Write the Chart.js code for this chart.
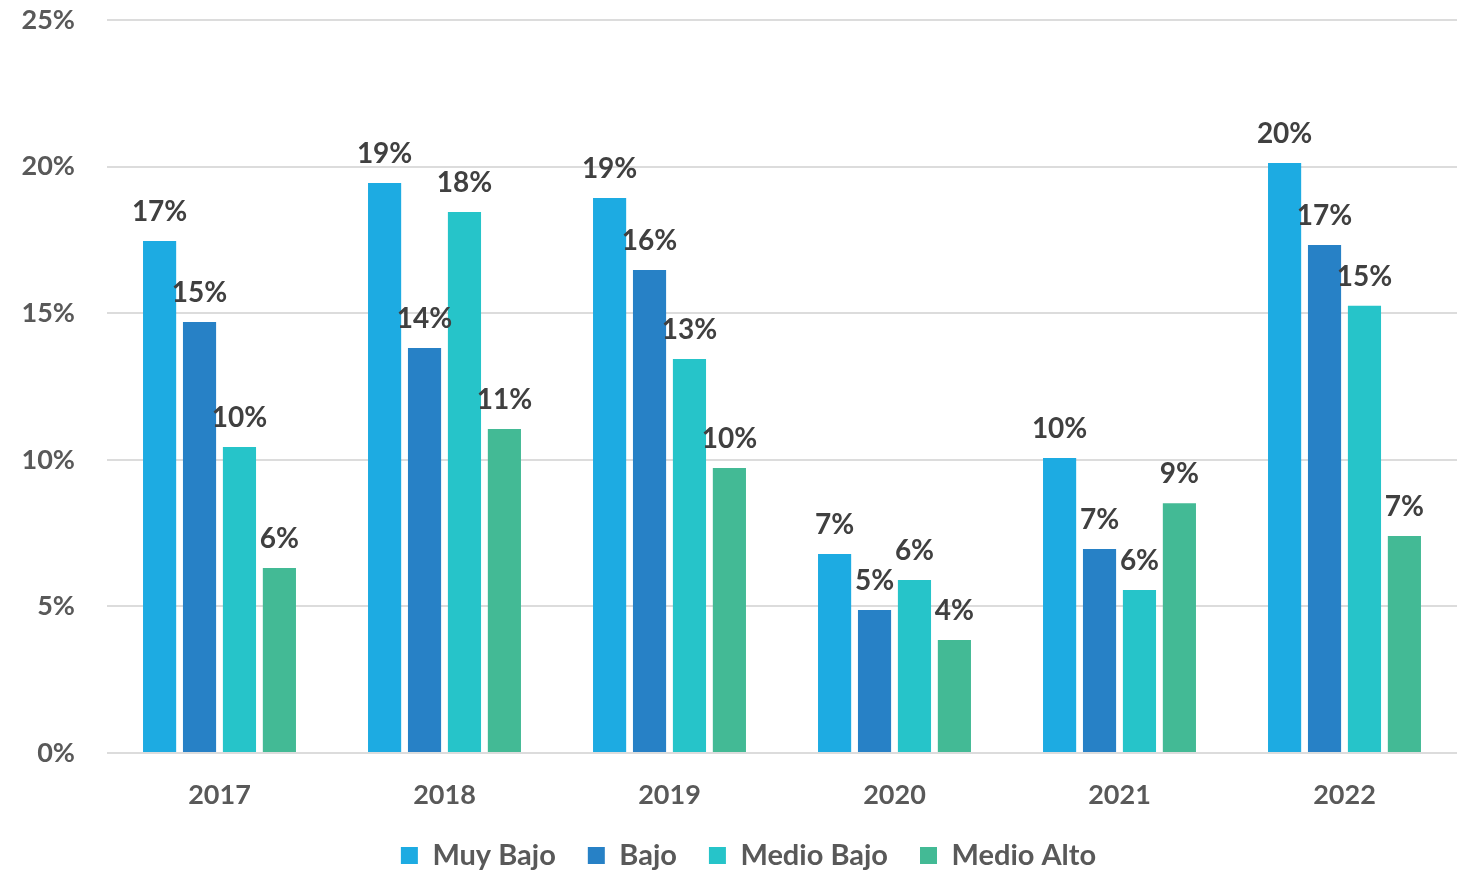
<!DOCTYPE html>
<html>
<head>
<meta charset="utf-8">
<script src="https://cdn.jsdelivr.net/npm/chart.js@4"></script>
<style>
  html, body { margin: 0; padding: 0; background: #fff; }
  #wrap { width: 1463px; height: 871px; }
</style>
</head>
<body>
<div id="wrap"><canvas id="chart" width="1463" height="871"></canvas></div>
<script>
const years = ["2017", "2018", "2019", "2020", "2021", "2022"];
const muyBajo = [17.46, 19.44, 18.93, 6.79, 10.06, 20.12];
const bajo = [14.70, 13.81, 16.47, 4.88, 6.96, 17.33];
const medioBajo = [10.44, 18.45, 13.44, 5.90, 5.56, 15.25];
const medioAlto = [6.31, 11.05, 9.72, 3.85, 8.52, 7.40];
const yTicks = [0, 5, 10, 15, 20, 25];

const FONT = "Lato, 'Open Sans', sans-serif";

// draws the % label above each bar
const barLabels = {
  id: "barLabels",
  afterDatasetsDraw(chart) {
    const ctx = chart.ctx;
    ctx.save();
    ctx.font = "bold 28px " + FONT;
    ctx.fillStyle = "#404040";
    ctx.textAlign = "center";
    ctx.textBaseline = "alphabetic";
    chart.data.datasets.forEach((ds, i) => {
      chart.getDatasetMeta(i).data.forEach((bar, j) => {
        ctx.fillText(Math.round(ds.data[j]) + "%", bar.x, bar.y - 20);
      });
    });
    ctx.restore();
  }
};

// legend box: shorter, and nudged a bit to the right
const legendTweak = {
  id: "legendTweak",
  beforeInit(chart) {
    const fit = chart.legend.fit;
    chart.legend.fit = function () {
      fit.call(this);
      this.height = 62;
    };
  },
  afterLayout(chart) {
    chart.legend.left += 20;
    chart.legend.right += 20;
  }
};

const ctx = document.getElementById("chart").getContext("2d");
new Chart(ctx, {
  type: "bar",
  data: {
    labels: years,
    datasets: [
      { label: "Muy Bajo", data: muyBajo, backgroundColor: "#1DABE2" },
      { label: "Bajo", data: bajo, backgroundColor: "#2781C6" },
      { label: "Medio Bajo", data: medioBajo, backgroundColor: "#26C4C9" },
      { label: "Medio Alto", data: medioAlto, backgroundColor: "#43BA95" }
    ]
  },
  options: {
    responsive: false,
    animation: false,
    devicePixelRatio: 1,
    layout: { padding: { top: 20, right: 6, bottom: 0, left: 0 }, autoPadding: false },
    datasets: { bar: { categoryPercentage: 0.71, barPercentage: 0.83 } },
    plugins: {
      tooltip: { enabled: false },
      legend: {
        position: "bottom",
        labels: {
          color: "#595959",
          font: { family: FONT, size: 29, weight: "bold" },
          boxWidth: 17,
          boxHeight: 17,
          padding: 32
        }
      }
    },
    scales: {
      x: {
        grid: { display: false },
        border: { display: false },
        afterFit: s => { s.height = 56; },
        ticks: { color: "#595959", font: { family: FONT, size: 27, weight: "bold" }, padding: 18 }
      },
      y: {
        min: yTicks[0],
        max: yTicks[yTicks.length - 1],
        afterFit: s => { s.width = 107; s.paddingTop = 0; s.paddingBottom = 0; },
        grid: { color: "#dcdcdc", lineWidth: 2, drawTicks: false },
        border: { display: false },
        ticks: {
          stepSize: yTicks[1] - yTicks[0],
          color: "#595959",
          font: { family: FONT, size: 27, weight: "bold" },
          padding: 32,
          callback: v => v + "%"
        }
      }
    }
  },
  plugins: [barLabels, legendTweak]
});
</script>
</body>
</html>
